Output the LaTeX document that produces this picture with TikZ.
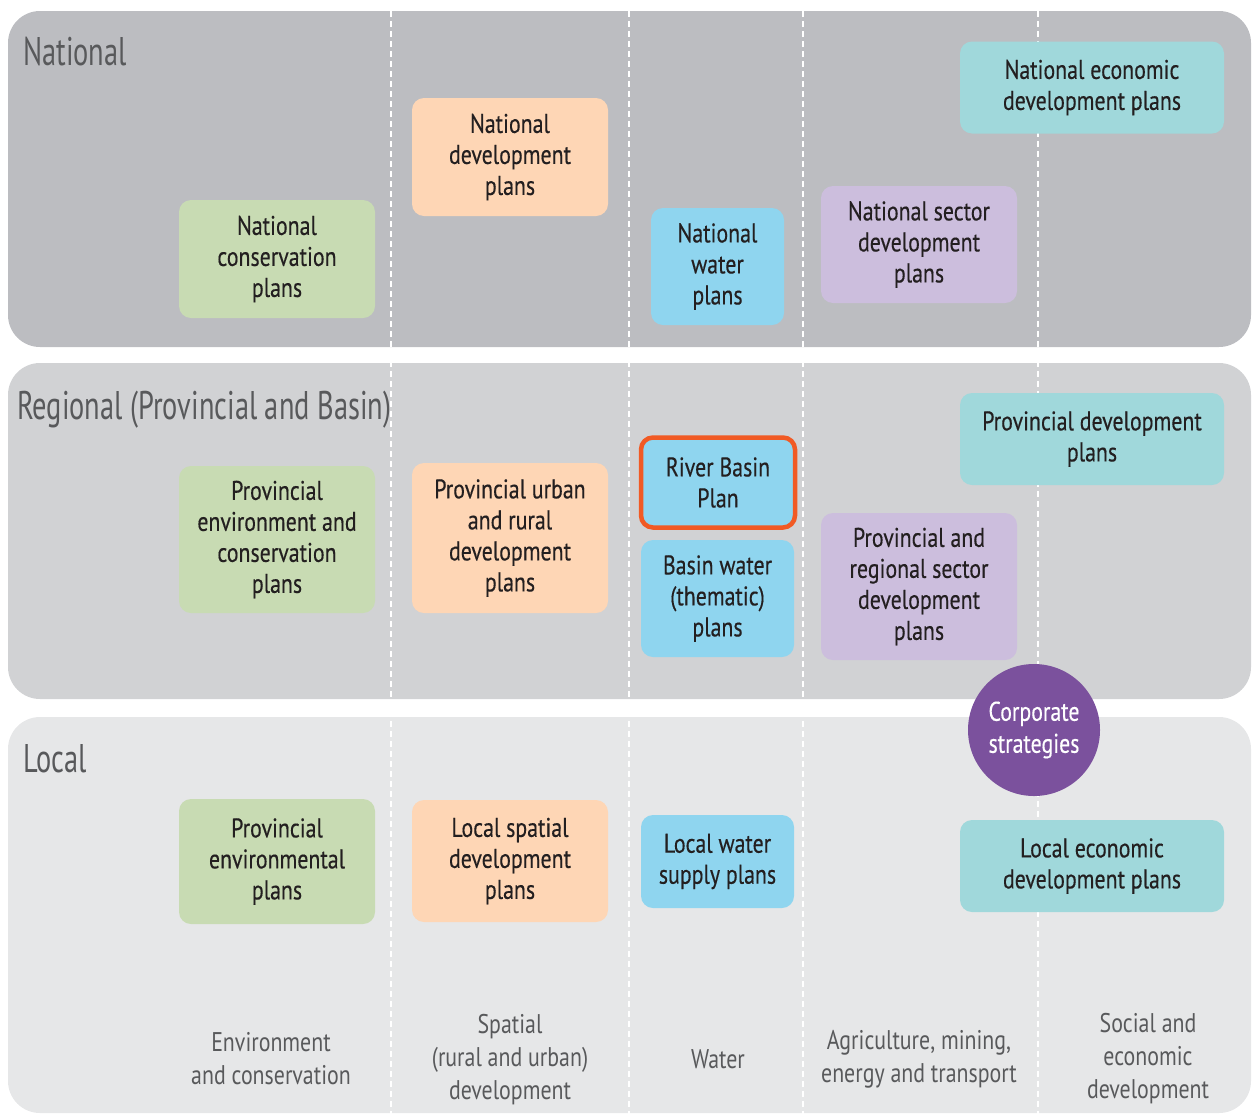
\documentclass[tikz,border=0pt]{standalone}
\usepackage{fontspec}
\setmainfont{PT Sans}[FakeStretch=0.81]
\newfontfamily\planfont{PT Sans}[FakeStretch=0.81, FakeBold=0.35]
\newfontfamily\titlefont{PT Sans}[FakeStretch=0.71]
\definecolor{bandA}{HTML}{BCBDC1}
\definecolor{bandB}{HTML}{D1D2D4}
\definecolor{bandC}{HTML}{E6E7E8}
\definecolor{cgreen}{HTML}{C8DBB3}
\definecolor{cpeach}{HTML}{FED6B5}
\definecolor{cblue}{HTML}{8FD5EF}
\definecolor{clav}{HTML}{CCBEDD}
\definecolor{cteal}{HTML}{A0D8DB}
\definecolor{cpurple}{HTML}{7B519D}
\definecolor{corange}{HTML}{F15A24}
\definecolor{ctext}{HTML}{231F20}
\definecolor{cgray}{HTML}{58595B}
\tikzset{
  band/.style={rounded corners=32pt},
  sep/.style={white, line width=2.5pt, dash pattern=on 6pt off 4pt},
  plan/.style={rounded corners=12pt, inner sep=0pt, align=center, text=ctext,
    font=\planfont\fontsize{27}{31}\selectfont},
  bandtitle/.style={anchor=west, text=cgray, inner sep=0pt, font=\titlefont\fontsize{40}{44}\selectfont},
  sector/.style={align=center, text=cgray, inner sep=0pt, font=\fontsize{27}{33}\selectfont},
}
\begin{document}
\begin{tikzpicture}[x=1pt,y=-1pt]
\useasboundingbox (0,0) rectangle (1252,1114);
% bands
\fill[band, bandA] (8,11) rectangle (1251,347);
\fill[band, bandB] (8,363) rectangle (1251,699);
\fill[band, bandC] (8,717) rectangle (1251,1113);
% separators
\foreach \x in {391,629,803,1038} \draw[sep] (\x,11) -- (\x,1114);
% band titles
\node[bandtitle] (tnat) at (23,52) {National};
\node[bandtitle] (treg) at (17,410) {Regional (Provincial and Basin)};
\node[bandtitle] (tloc) at (23,759) {Local};
% national
\node[plan, fill=cgreen, minimum width=196, minimum height=118] (ncons) at (277,259) {National\\conservation\\plans};
\node[plan, fill=cpeach, minimum width=196, minimum height=118] (ndev) at (510,157) {National\\development\\plans};
\node[plan, fill=cblue, minimum width=133, minimum height=117] (nwat) at (717.5,266.5) {National\\water\\plans};
\node[plan, fill=clav, minimum width=196, minimum height=117] (nsec) at (919,244.5) {National sector\\development\\plans};
\node[plan, fill=cteal, minimum width=264, minimum height=92] (necon) at (1092,87.5) {National economic\\development plans};
% regional
\node[plan, fill=cgreen, minimum width=196, minimum height=147] (pcons) at (277,539.5) {Provincial\\environment and\\conservation\\plans};
\node[plan, fill=cpeach, minimum width=196, minimum height=150] (pdev) at (510,538) {Provincial urban\\and rural\\development\\plans};
\node[plan, fill=cblue, draw=corange, line width=4.5pt, minimum width=154, minimum height=90] (rbp) at (718,482.5) {River Basin\\Plan};
\node[plan, fill=cblue, minimum width=153, minimum height=117] (bwat) at (717.5,598.5) {Basin water\\(thematic)\\plans};
\node[plan, fill=clav, minimum width=196, minimum height=147] (psec) at (919,586.5) {Provincial and\\regional sector\\development\\plans};
\node[plan, fill=cteal, minimum width=264, minimum height=92] (pecon) at (1092,439) {Provincial development\\plans};
% local
\node[plan, fill=cgreen, minimum width=196, minimum height=125] (lcons) at (277,861.5) {Provincial\\environmental\\plans};
\node[plan, fill=cpeach, minimum width=196, minimum height=122] (ldev) at (510,861) {Local spatial\\development\\plans};
\node[plan, fill=cblue, minimum width=153, minimum height=93] (lwat) at (717.5,861.5) {Local water\\supply plans};
\node[plan, fill=cteal, minimum width=264, minimum height=92] (lecon) at (1092,866) {Local economic\\development plans};
% corporate
\node[circle, fill=cpurple, minimum size=132, inner sep=0pt, align=center, text=white,
  font=\planfont\fontsize{27}{32}\selectfont] (corp) at (1034,730) {Corporate\\strategies};
% sectors
\node[sector] (s1) at (271,1059) {Environment\\and conservation};
\node[sector] (s2) at (510,1060) {Spatial\\(rural and urban)\\development};
\node[sector] (s3) at (718,1059) {Water};
\node[sector] (s4) at (919,1059) {Agriculture, mining,\\energy and transport};
\node[sector] (s5) at (1148,1059) {Social and\\economic\\development};
\end{tikzpicture}
\end{document}
